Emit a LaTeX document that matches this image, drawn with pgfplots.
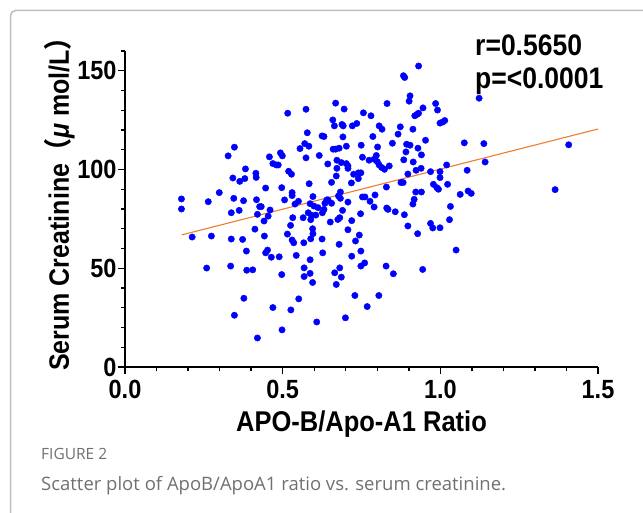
\documentclass[border=0pt]{standalone}
\usepackage{fontspec}
\setmainfont{Liberation Sans}
\newfontfamily\capfont{Open Sans}
\newfontfamily\cjk{Noto Sans CJK SC}
\usepackage{graphicx}
\usepackage{pgfplots}
\pgfplotsset{compat=1.18}
\definecolor{dotblue}{RGB}{0,0,255}
\definecolor{fitorange}{RGB}{240,125,45}
\definecolor{framegray}{RGB}{190,190,190}
\definecolor{capgray}{RGB}{112,112,112}
\newcommand{\tall}[1]{\scalebox{1}[1.12]{#1}}

\pgfplotstableread{
x y
0.179 85.1
0.179 80.0
0.213 65.8
0.264 83.7
0.274 66.3
0.259 50.1
0.299 88.3
0.327 106.9
0.347 111.3
0.342 95.7
0.345 85.4
0.337 78.1
0.337 64.8
0.335 51.1
0.347 26.2
0.364 94.0
0.362 79.3
0.377 34.8
0.376 84.2
0.382 100.3
0.380 95.4
0.373 64.6
0.385 58.7
0.386 49.0
0.405 49.2
0.415 98.1
0.416 96.0
0.417 84.7
0.412 69.8
0.420 77.3
0.427 81.2
0.432 81.2
0.420 14.7
0.441 73.9
0.442 66.3
0.446 90.6
0.446 57.8
0.452 59.2
0.458 106.4
0.454 76.4
0.460 79.5
0.464 55.6
0.469 30.1
0.469 103.0
0.480 102.3
0.486 102.3
0.489 55.8
0.493 108.4
0.497 90.8
0.497 46.8
0.498 18.8
0.499 106.9
0.506 84.6
0.516 128.5
0.519 99.1
0.528 97.6
0.530 88.3
0.530 86.8
0.532 75.6
0.525 71.7
0.515 67.3
0.530 64.3
0.535 62.9
0.543 56.5
0.551 34.5
0.526 28.9
0.539 82.5
0.550 83.9
0.555 110.6
0.565 75.6
0.567 62.9
0.568 50.2
0.568 45.8
0.574 130.5
0.574 105.9
0.578 118.6
0.570 113.1
0.583 111.8
0.584 92.8
0.581 78.1
0.587 82.7
0.591 76.9
0.589 74.6
0.595 70.0
0.596 67.5
0.589 64.9
0.587 54.3
0.587 47.4
0.595 42.8
0.596 86.3
0.599 81.5
0.608 22.8
0.612 80.7
0.605 76.9
0.616 107.1
0.625 64.8
0.625 117.0
0.631 116.7
0.627 57.8
0.626 78.1
0.631 79.8
0.634 82.9
0.640 84.6
0.644 84.6
0.643 102.8
0.651 73.4
0.655 93.5
0.655 82.9
0.659 125.1
0.664 122.1
0.668 133.6
0.660 110.3
0.668 110.3
0.679 110.8
0.672 104.7
0.670 96.7
0.672 100.6
0.677 86.6
0.683 88.6
0.683 85.4
0.675 74.7
0.681 75.6
0.665 47.7
0.670 41.8
0.679 62.1
0.681 50.2
0.686 45.5
0.688 122.8
0.692 122.1
0.691 116.5
0.695 130.6
0.686 103.5
0.702 103.0
0.707 101.8
0.702 111.8
0.707 100.6
0.690 79.3
0.699 24.9
0.707 83.5
0.707 69.5
0.718 93.2
0.719 74.1
0.719 56.1
0.725 97.6
0.740 98.3
0.748 98.3
0.721 122.1
0.735 123.3
0.729 36.2
0.731 63.8
0.740 95.4
0.743 66.8
0.747 77.6
0.748 58.7
0.749 112.3
0.753 106.2
0.753 86.1
0.761 86.1
0.756 128.7
0.748 51.1
0.760 52.7
0.768 30.6
0.774 104.7
0.777 83.9
0.780 127.2
0.786 116.7
0.790 105.2
0.800 104.0
0.806 102.3
0.814 101.0
0.823 100.1
0.790 81.0
0.793 87.1
0.797 107.1
0.801 111.4
0.806 122.1
0.815 120.4
0.805 36.2
0.831 133.4
0.829 91.1
0.830 80.5
0.834 79.8
0.828 51.1
0.838 101.8
0.848 113.3
0.851 47.2
0.857 78.6
0.866 117.9
0.873 121.6
0.875 93.4
0.882 93.4
0.883 147.5
0.887 146.6
0.884 104.9
0.891 108.9
0.893 112.8
0.886 77.1
0.897 97.7
0.897 71.4
0.904 137.3
0.901 134.6
0.904 112.3
0.913 120.4
0.914 103.8
0.919 127.2
0.926 127.9
0.931 128.5
0.923 99.6
0.922 88.6
0.917 84.9
0.913 82.5
0.929 110.8
0.931 152.4
0.928 67.5
0.940 107.4
0.939 100.6
0.940 88.6
0.944 49.4
0.945 131.2
0.953 114.8
0.969 98.9
0.969 72.7
0.976 70.4
0.978 92.5
0.985 133.4
0.991 130.1
0.989 90.8
0.994 90.0
0.999 98.9
0.999 95.9
0.999 70.5
0.999 123.5
1.008 124.1
1.014 124.8
1.020 102.3
1.023 92.5
1.029 74.6
1.032 81.3
1.050 59.2
1.063 87.4
1.076 113.5
1.085 99.6
1.088 89.1
1.098 87.9
1.123 136.1
1.138 113.1
1.142 103.8
1.364 89.8
1.407 112.5
}\scatterdata

\begin{document}
\begin{tikzpicture}[x=1pt,y=1pt]
  \useasboundingbox (0pt,0pt) rectangle (643pt,-513pt);
  \begin{scope}
    \clip (0pt,0pt) rectangle (643pt,-513pt);
    \draw[framegray, line width=1.5pt, rounded corners=5pt] (10.5pt,-10.5pt) rectangle (700pt,-560pt);
  \end{scope}

  \begin{axis}[
      at={(125pt,-367pt)},
      anchor=south west,
      scale only axis,
      width=473pt,
      height=316pt,
      xmin=0, xmax=1.5,
      ymin=0, ymax=160,
      axis x line*=bottom,
      axis y line*=left,
      axis line style={black, line width=1.8pt},
      tick style={black, line width=1.4pt},
      major tick length=7pt,
      minor tick length=4pt,
      tick align=outside,
      xtick={0,0.5,1,1.5},
      minor xtick={0.1,0.2,0.3,0.4,0.6,0.7,0.8,0.9,1.1,1.2,1.3,1.4},
      ytick={0,50,100,150},
      minor ytick={10,20,30,40,60,70,80,90,110,120,130,140,160},
      /pgf/number format/assume math mode=true,
      ticklabel style={font=\bfseries\fontsize{23.5}{23.5}\selectfont},
      yticklabel={\tall{\pgfmathprintnumber{\tick}}},
      xticklabel={\tall{\pgfmathprintnumber{\tick}}},
      yticklabel style={xshift=2pt},
      xticklabel style={yshift=-3pt,
        /pgf/number format/fixed,
        /pgf/number format/fixed zerofill,
        /pgf/number format/precision=1},
      xlabel={\tall{APO-B/Apo-A1 Ratio}},
      ylabel={\tall{Serum Creatinine{\cjk （}\textit{μ} mol/L{\cjk ）}}},
      every axis x label/.style={at={(rel axis cs:0.5,-0.18)}, anchor=center,
        font=\bfseries\fontsize{25.5}{25.5}\selectfont},
      every axis y label/.style={at={(rel axis cs:-0.138,0.535)}, anchor=center, rotate=90,
        font=\bfseries\fontsize{25}{25}\selectfont},
      clip=false,
    ]

    \addplot[only marks, mark=*, mark size=3.2pt, dotblue,
      mark options={draw=dotblue, fill=dotblue}] table {\scatterdata};

    % Linear fit
    \addplot[fitorange, line width=1.1pt] coordinates {(0.18,66.9) (1.5,120.5)};

    \node[anchor=base west, inner sep=0pt, font=\bfseries\fontsize{26.5}{26.5}\selectfont]
      at (rel axis cs:0.74,0.985) {\tall{r=0.5650}};
    \node[anchor=base west, inner sep=0pt, font=\bfseries\fontsize{26.5}{26.5}\selectfont]
      at (rel axis cs:0.74,0.88) {\tall{p=<0.0001}};
  \end{axis}

  \node[anchor=base west, inner sep=0pt, capgray, font=\capfont\fontsize{15.5}{15.5}\selectfont]
    at (41pt,-459pt) {FIGURE 2};
  \node[anchor=base west, inner sep=0pt, capgray, font=\capfont\fontsize{18.5}{18.5}\selectfont]
    at (41pt,-490pt) {Scatter plot of ApoB/ApoA1 ratio vs. serum creatinine.};
\end{tikzpicture}
\end{document}
